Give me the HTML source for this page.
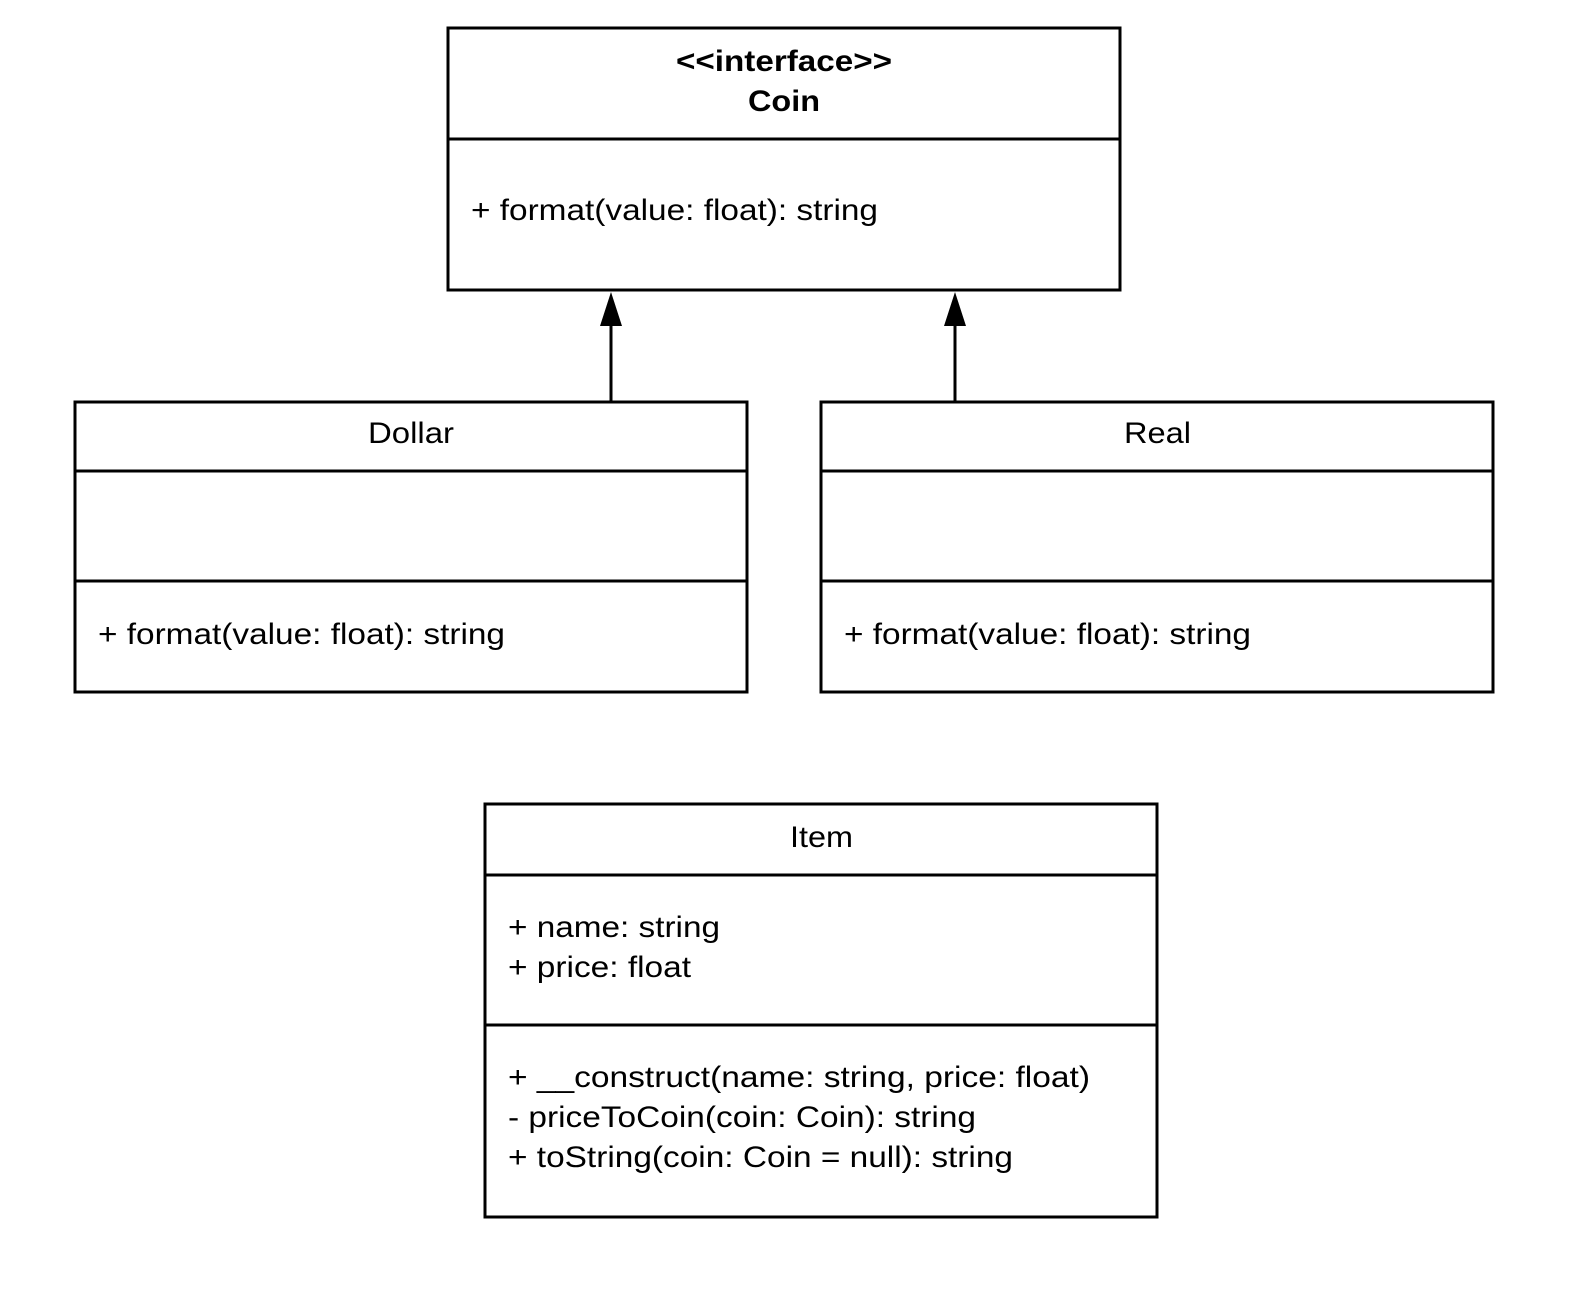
<!DOCTYPE html>
<html><head><meta charset="utf-8"><style>
html,body{margin:0;padding:0;background:#fff;}
svg{display:block;}
text{font-family:"Liberation Sans",Arial,sans-serif;font-size:30px;fill:#000;}
</style></head><body>
<svg width="1575" height="1298" viewBox="0 0 1575 1298" xmlns="http://www.w3.org/2000/svg">
<g fill="none" stroke="#000" stroke-width="3">
<rect x="448" y="28" width="672" height="262"/>
<line x1="448" y1="139" x2="1120" y2="139"/>
<rect x="75" y="402" width="672" height="290"/>
<line x1="75" y1="471" x2="747" y2="471"/>
<line x1="75" y1="581" x2="747" y2="581"/>
<rect x="821" y="402" width="672" height="290"/>
<line x1="821" y1="471" x2="1493" y2="471"/>
<line x1="821" y1="581" x2="1493" y2="581"/>
<rect x="485" y="804" width="672" height="413"/>
<line x1="485" y1="875" x2="1157" y2="875"/>
<line x1="485" y1="1025" x2="1157" y2="1025"/>
<line x1="611" y1="402" x2="611" y2="322"/>
<line x1="955" y1="402" x2="955" y2="322"/>
</g>
<polygon points="611,292 600,326 622,326" fill="#000"/>
<polygon points="955,292 944,326 966,326" fill="#000"/>
<g lengthAdjust="spacingAndGlyphs">
<text x="676" y="71" font-weight="bold" textLength="216" lengthAdjust="spacingAndGlyphs">&lt;&lt;interface&gt;&gt;</text>
<text x="748" y="111" font-weight="bold" textLength="72" lengthAdjust="spacingAndGlyphs">Coin</text>
<text x="471" y="220" textLength="407" lengthAdjust="spacingAndGlyphs">+ format(value: float): string</text>
<text x="368" y="443" textLength="86" lengthAdjust="spacingAndGlyphs">Dollar</text>
<text x="98" y="644" textLength="407" lengthAdjust="spacingAndGlyphs">+ format(value: float): string</text>
<text x="1124" y="443" textLength="67" lengthAdjust="spacingAndGlyphs">Real</text>
<text x="844" y="644" textLength="407" lengthAdjust="spacingAndGlyphs">+ format(value: float): string</text>
<text x="790" y="847" textLength="63" lengthAdjust="spacingAndGlyphs">Item</text>
<text x="508" y="937" textLength="212" lengthAdjust="spacingAndGlyphs">+ name: string</text>
<text x="508" y="977" textLength="183" lengthAdjust="spacingAndGlyphs">+ price: float</text>
<text x="508" y="1087" textLength="582" lengthAdjust="spacingAndGlyphs">+ __construct(name: string, price: float)</text>
<text x="508" y="1127" textLength="468" lengthAdjust="spacingAndGlyphs">- priceToCoin(coin: Coin): string</text>
<text x="508" y="1167" textLength="505" lengthAdjust="spacingAndGlyphs">+ toString(coin: Coin = null): string</text>
</g>
</svg>
</body></html>
